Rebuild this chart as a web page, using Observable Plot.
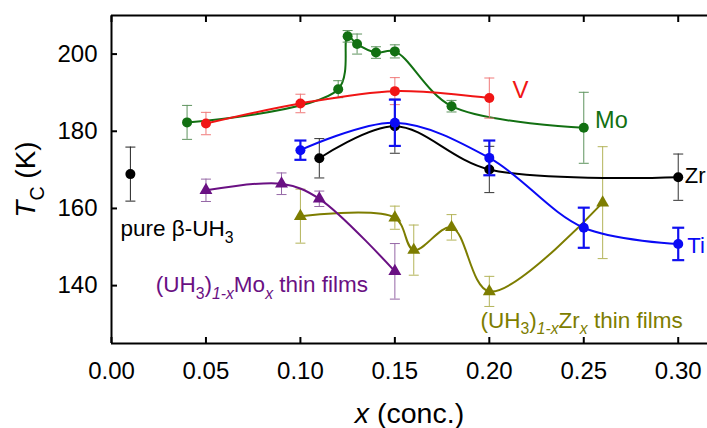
<!DOCTYPE html>
<html><head><meta charset="utf-8">
<script src="https://cdn.jsdelivr.net/npm/d3@7"></script>
<script src="https://cdn.jsdelivr.net/npm/@observablehq/plot@0.6"></script>
<style>
body{margin:0;background:#fff;}
#chart svg{display:block;}
</style></head><body><div id="chart"></div>
<script>
// ---- data ----
const xTicks = [0, 0.05, 0.10, 0.15, 0.20, 0.25, 0.30];
const yTicks = [140, 160, 180, 200];
const xDomain = [0, 0.3155];
const yDomain = [125, 210];

const moX   = [0.04, 0.12, 0.125, 0.13, 0.14, 0.15, 0.18, 0.25];
const moY   = [182.3, 190.9, 204.6, 202.6, 200.4, 200.7, 186.5, 180.9];
const moErr = [4.4, 2.2, 1.5, 2.6, 1.5, 1.7, 1.5, 9.2];

const vX   = [0.05, 0.10, 0.15, 0.20];
const vY   = [182.0, 187.2, 190.4, 188.6];
const vErr = [2.9, 2.4, 3.5, 5.2];

const tiX   = [0.10, 0.15, 0.20, 0.25, 0.30];
const tiY   = [175.1, 182.2, 173.1, 155.0, 150.8];
const tiErr = [2.5, 6.0, 4.5, 5.2, 4.2];

const zrX   = [0.11, 0.15, 0.20, 0.30];
const zrY   = [173.0, 181.3, 170.1, 168.1];
const zrErr = [5.1, 7.0, 6.0, 6.0];

const pureX   = [0.01];
const pureY   = [168.9];
const pureErr = [7.0];

const moFilmX   = [0.05, 0.09, 0.11, 0.15];
const moFilmY   = [164.7, 166.4, 162.5, 143.7];
const moFilmErr = [2.9, 2.8, 2.0, 7.2];

const zrFilmX   = [0.10, 0.15, 0.16, 0.18, 0.20, 0.26];
const zrFilmY   = [158.0, 157.6, 149.2, 155.1, 138.5, 161.5];
const zrFilmErr = [7.0, 3.0, 6.5, 3.3, 3.9, 14.5];

const labelText = ["V", "Mo", "Zr", "Ti", "pure β-UH3", "(UH3)1-xMox thin films", "(UH3)1-xZrx thin films"];
const labelX    = [0.2123, 0.256, 0.3035, 0.3048, 0.0048, 0.0234, 0.1953];
const labelY    = [190.5, 182.8, 168.4, 150.3, 154.6, 140.2, 131.0];

// ---- styling ----
const series = [
  {x: zrFilmX, y: zrFilmY, e: zrFilmErr, color: "#7d7d00", err: "#b4b45a", symbol: "triangle", line: true, ew: 1},
  {x: moFilmX, y: moFilmY, e: moFilmErr, color: "#6a1083", err: "#9567a6", symbol: "triangle", line: true, ew: 1},
  {x: pureX, y: pureY, e: pureErr, color: "#000000", err: "#222222", symbol: "circle", line: false, ew: 1},
  {x: zrX, y: zrY, e: zrErr, color: "#000000", err: "#333333", symbol: "circle", line: true, ew: 1},
  {x: moX, y: moY, e: moErr, color: "#127012", err: "#5f945f", symbol: "circle", line: true, ew: 1},
  {x: vX, y: vY, e: vErr, color: "#f01515", err: "#f07a7a", symbol: "circle", line: true, ew: 1},
  {x: tiX, y: tiY, e: tiErr, color: "#0a0af5", err: "#1010f0", symbol: "circle", line: true, ew: 2.2}
];
const labelColor = ["#f01515", "#127012", "#000000", "#0a0af5", "#000000", "#6a1083", "#7d7d00"];
const labelSize  = [24, 23.5, 22, 22, 22.5, 22.5, 22.5];

const rich = {
  "T_C (K)": [["T","i"],["C","sub"],[" (K)",""]],
  "x (conc.)": [["x","i"],[" (conc.)",""]],
  "pure β-UH3": [["pure β-UH",""],["3","sub"]],
  "(UH3)1-xMox thin films": [["(UH",""],["3","sub"],[")",""],["1-x","subi"],["Mo",""],["x","subi"],[" thin films",""]],
  "(UH3)1-xZrx thin films": [["(UH",""],["3","sub"],[")",""],["1-x","subi"],["Zr",""],["x","subi"],[" thin films",""]]
};

const capSymbol = {draw(ctx, size) { const w = Math.sqrt(size / Math.PI); ctx.moveTo(-w, 0); ctx.lineTo(w, 0); }};

const marks = [];
for (const s of series) {
  const rows = s.x.map((x, i) => ({x, y: s.y[i], e: s.e[i]}));
  if (s.line) marks.push(Plot.line(rows, {x: "x", y: "y", stroke: s.color, strokeWidth: 2, curve: "catmull-rom"}));
  marks.push(Plot.ruleX(rows, {x: "x", y1: d => d.y - d.e, y2: d => d.y + d.e, stroke: s.err, strokeWidth: s.ew}));
  marks.push(Plot.dot(rows, {x: "x", y: d => d.y + d.e, symbol: capSymbol, r: s.ew > 1 ? 6 : 5, stroke: s.err, strokeWidth: s.ew, fill: "none"}));
  marks.push(Plot.dot(rows, {x: "x", y: d => d.y - d.e, symbol: capSymbol, r: s.ew > 1 ? 6 : 5, stroke: s.err, strokeWidth: s.ew, fill: "none"}));
  marks.push(Plot.dot(rows, {x: "x", y: "y", symbol: s.symbol, r: s.symbol === "triangle" ? 4.8 : 5, fill: s.color, stroke: "none"}));
}
const labels = labelText.map((t, i) => ({t, x: labelX[i], y: labelY[i], c: labelColor[i], s: labelSize[i]}));
for (const l of labels) {
  marks.push(Plot.text([l], {x: "x", y: "y", text: "t", fill: l.c, fontSize: l.s, textAnchor: "start"}));
}

const plot = Plot.plot({
  width: 707, height: 428,
  marginLeft: 111, marginRight: 0, marginTop: 15, marginBottom: 85,
  style: {fontFamily: "'Liberation Sans', Arial, sans-serif", background: "#fff", color: "#000"},
  x: {domain: xDomain, label: null},
  y: {domain: yDomain, label: null},
  marks: [
    ...marks,
    Plot.ruleX([xDomain[0]], {stroke: "#000", strokeWidth: 2}),
    Plot.ruleY([yDomain[0]], {stroke: "#000", strokeWidth: 2}),
    Plot.ruleY([yDomain[1]], {stroke: "#000", strokeWidth: 2}),
    Plot.axisX({ticks: xTicks, tickSize: 0, tickPadding: 18, fontSize: 24, tickFormat: d3.format(".2f")}),
    Plot.axisX({ticks: xTicks, tickSize: -6, strokeWidth: 2, tickFormat: () => ""}),
    Plot.axisX({ticks: xTicks, anchor: "top", tickSize: -6, strokeWidth: 2, tickFormat: () => ""}),
    Plot.axisY({ticks: yTicks, tickSize: 0, tickPadding: 14, fontSize: 24}),
    Plot.axisY({ticks: yTicks, tickSize: -6, strokeWidth: 2, tickFormat: () => ""}),
    Plot.text(["x (conc.)"], {frameAnchor: "bottom", dy: 70, lineAnchor: "middle", textAnchor: "middle", fontSize: 28.5}),
    Plot.text(["T_C (K)"], {frameAnchor: "left", dx: -85, rotate: -90, textAnchor: "middle", lineAnchor: "middle", fontSize: 28})
  ]
});
document.getElementById("chart").appendChild(plot);

// rich text (italics / subscripts)
plot.querySelectorAll("text").forEach(el => {
  const parts = rich[el.textContent];
  if (!parts) return;
  const fs = parseFloat(getComputedStyle(el).fontSize) || 20;
  el.textContent = "";
  let cur = 0;
  for (const [str, st] of parts) {
    const sp = document.createElementNS("http://www.w3.org/2000/svg", "tspan");
    const isSub = st.startsWith("sub");
    const target = isSub ? fs * 0.3 : 0;
    if (target !== cur) sp.setAttribute("dy", target - cur);
    cur = target;
    if (isSub) sp.setAttribute("font-size", fs * 0.7);
    if (st === "i" || st === "subi") sp.setAttribute("font-style", "italic");
    sp.textContent = str;
    el.appendChild(sp);
  }
});
</script></body></html>
